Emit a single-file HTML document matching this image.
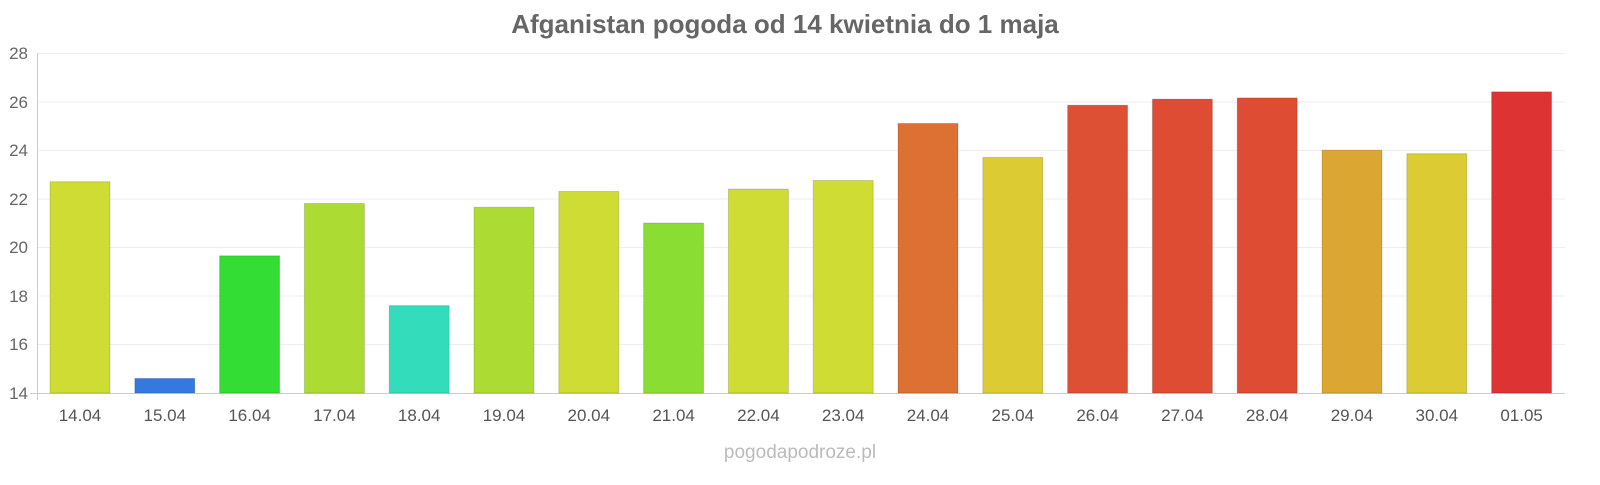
<!DOCTYPE html>
<html><head><meta charset="utf-8"><style>
body{margin:0;background:#fff;width:1600px;height:480px;overflow:hidden}
text{font-family:"Liberation Sans",sans-serif}
</style></head><body>
<svg width="1600" height="480" xmlns="http://www.w3.org/2000/svg">
<text x="785" y="33" text-anchor="middle" font-size="26" font-weight="bold" fill="#666">Afganistan pogoda od 14 kwietnia do 1 maja</text>
<g stroke="#eee" stroke-width="1">
<line x1="38" y1="53.5" x2="1565" y2="53.5"/><line x1="38" y1="102" x2="1565" y2="102"/>
<line x1="38" y1="150.5" x2="1565" y2="150.5"/><line x1="38" y1="199" x2="1565" y2="199"/>
<line x1="38" y1="247.5" x2="1565" y2="247.5"/><line x1="38" y1="296" x2="1565" y2="296"/>
<line x1="38" y1="344.5" x2="1565" y2="344.5"/>
</g>
<line x1="37.5" y1="53" x2="37.5" y2="400" stroke="#ccc"/>
<line x1="30" y1="393.5" x2="1565" y2="393.5" stroke="#ccc"/>
<g font-size="17" fill="#666" text-anchor="end">
<text x="28" y="59">28</text><text x="28" y="108">26</text><text x="28" y="156">24</text>
<text x="28" y="205">22</text><text x="28" y="253">20</text><text x="28" y="302">18</text>
<text x="28" y="350">16</text><text x="28" y="399">14</text>
</g>
<g stroke="rgba(0,0,0,0.15)" stroke-width="1">
<rect x="50" y="181.7" width="60" height="211.3" fill="#cfdc33"/>
<rect x="134.8" y="378.4" width="60" height="14.6" fill="#3579df"/>
<rect x="219.6" y="255.8" width="60" height="137.2" fill="#33dd33"/>
<rect x="304.4" y="203.5" width="60" height="189.5" fill="#acdc33"/>
<rect x="389.2" y="305.6" width="60" height="87.4" fill="#33ddbb"/>
<rect x="474" y="207.2" width="60" height="185.8" fill="#acdc33"/>
<rect x="558.8" y="191.4" width="60" height="201.6" fill="#cfdc33"/>
<rect x="643.6" y="223" width="60" height="170" fill="#8ade33"/>
<rect x="728.4" y="189" width="60" height="204" fill="#cfdc33"/>
<rect x="813.2" y="180.5" width="60" height="212.5" fill="#cfdc33"/>
<rect x="898" y="123.4" width="60" height="269.6" fill="#dd7033"/>
<rect x="982.8" y="157.4" width="60" height="235.6" fill="#dccb33"/>
<rect x="1067.6" y="105.2" width="60" height="287.8" fill="#dd5033"/>
<rect x="1152.4" y="99.1" width="60" height="293.9" fill="#dd4c33"/>
<rect x="1237.2" y="97.9" width="60" height="295.1" fill="#dd4c33"/>
<rect x="1322" y="150.1" width="60" height="242.9" fill="#dca633"/>
<rect x="1406.8" y="153.7" width="60" height="239.3" fill="#dccb33"/>
<rect x="1491.6" y="91.8" width="60" height="301.2" fill="#dd3333"/>
</g>
<g font-size="17" fill="#555" text-anchor="middle">
<text x="80" y="421">14.04</text><text x="164.8" y="421">15.04</text><text x="249.6" y="421">16.04</text>
<text x="334.4" y="421">17.04</text><text x="419.2" y="421">18.04</text><text x="504" y="421">19.04</text>
<text x="588.8" y="421">20.04</text><text x="673.6" y="421">21.04</text><text x="758.4" y="421">22.04</text>
<text x="843.2" y="421">23.04</text><text x="928" y="421">24.04</text><text x="1012.8" y="421">25.04</text>
<text x="1097.6" y="421">26.04</text><text x="1182.4" y="421">27.04</text><text x="1267.2" y="421">28.04</text>
<text x="1352" y="421">29.04</text><text x="1436.8" y="421">30.04</text><text x="1521.6" y="421">01.05</text>
</g>
<text x="800" y="458" text-anchor="middle" font-size="19" fill="#bbb">pogodapodroze.pl</text>
</svg>
</body></html>
